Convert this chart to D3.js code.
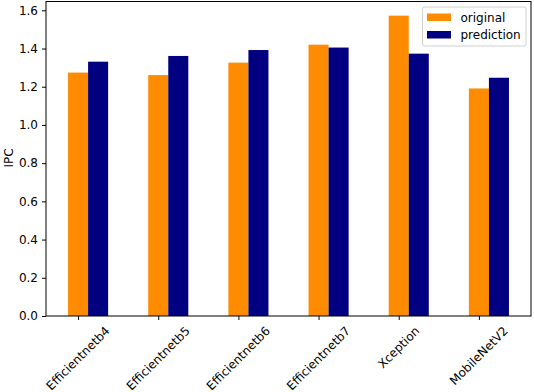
<!DOCTYPE html>
<html>
<head>
<meta charset="utf-8">
<script src="https://cdn.jsdelivr.net/npm/d3@7"></script>
<style>
  body { margin: 0; background: #fff; }
  text { font-family: "DejaVu Sans", sans-serif; }
</style>
</head>
<body>
<svg id="chart" width="534" height="392"></svg>
<script>
// data
var categories = ['Efficientnetb4', 'Efficientnetb5', 'Efficientnetb6', 'Efficientnetb7', 'Xception', 'MobileNetV2'];
var original = [1.274, 1.261, 1.326, 1.420, 1.572, 1.191];
var prediction = [1.331, 1.361, 1.392, 1.405, 1.373, 1.247];
var yTicks = [0.0, 0.2, 0.4, 0.6, 0.8, 1.0, 1.2, 1.4, 1.6];
var seriesNames = ['original', 'prediction'];
var colors = ['#ff8c00', '#000080'];

var mLeft = 46, mRight = 531, mTop = 1.5, mBottom = 316;
var fs = 12;

var svg = d3.select('#chart');

var barW = 0.25;
var x = d3.scaleLinear()
    .domain([-0.125 - 0.275, (categories.length - 1) + 0.375 + 0.275])
    .range([mLeft, mRight]);
var y = d3.scaleLinear().domain([0, 1.646]).range([mBottom, mTop]);

// bars
var series = [original, prediction];
series.forEach(function(vals, s) {
    svg.append('g').selectAll('rect')
        .data(vals)
        .enter().append('rect')
        .attr('x', function(d, i) { return x(i - barW / 2 + s * barW); })
        .attr('width', function(d, i) { return x(i + barW / 2 + s * barW) - x(i - barW / 2 + s * barW); })
        .attr('y', function(d) { return y(d); })
        .attr('height', function(d) { return y(0) - y(d); })
        .attr('fill', colors[s]);
});

// y axis
var yAxis = d3.axisLeft(y).tickValues(yTicks).tickFormat(d3.format('.1f')).tickSize(4).tickPadding(4);
var gy = svg.append('g').attr('transform', 'translate(' + mLeft + ',0)').call(yAxis);
gy.select('.domain').remove();
gy.selectAll('text').attr('font-size', fs).attr('fill', '#000').attr('font-family', 'DejaVu Sans');
gy.selectAll('line').attr('stroke', '#000');

// x axis ticks
var xAxis = d3.axisBottom(x).tickValues(d3.range(categories.length)).tickFormat('').tickSize(4);
var gx = svg.append('g').attr('transform', 'translate(0,' + mBottom + ')').call(xAxis);
gx.select('.domain').remove();
gx.selectAll('line').attr('stroke', '#000');

// rotated x labels, bbox centered on tick
categories.forEach(function(c, i) {
    var t = svg.append('text')
        .attr('font-size', fs)
        .attr('text-anchor', 'middle')
        .attr('dominant-baseline', 'central')
        .text(c);
    var w = t.node().getComputedTextLength();
    var h = fs * 1.15;
    var cy = mBottom + 4 + 4 + (w + h) * Math.SQRT1_2 / 2;
    t.attr('transform', 'translate(' + x(i) + ',' + cy + ') rotate(-45)');
});

// frame
svg.append('rect')
    .attr('x', mLeft).attr('y', mTop)
    .attr('width', mRight - mLeft).attr('height', mBottom - mTop)
    .attr('fill', 'none').attr('stroke', '#000').attr('stroke-width', 1);

// y label
svg.append('text')
    .attr('transform', 'translate(9,158) rotate(-90)')
    .attr('text-anchor', 'middle')
    .attr('dominant-baseline', 'central')
    .attr('font-size', fs)
    .text('IPC');

// legend
var lg = svg.append('g');
lg.append('rect')
    .attr('x', 422.5).attr('y', 7).attr('width', 103.5).attr('height', 39)
    .attr('rx', 2).attr('fill', '#fff').attr('fill-opacity', 0.8)
    .attr('stroke', '#d0d0d0').attr('stroke-width', 1);
seriesNames.forEach(function(n, s) {
    lg.append('rect')
        .attr('x', 427).attr('y', 13.5 + s * 17.5)
        .attr('width', 24).attr('height', 7.5)
        .attr('fill', colors[s]);
    lg.append('text')
        .attr('x', 460.5).attr('y', 17.5 + s * 17.5)
        .attr('dominant-baseline', 'central')
        .attr('font-size', fs)
        .text(n);
});
</script>
</body>
</html>
